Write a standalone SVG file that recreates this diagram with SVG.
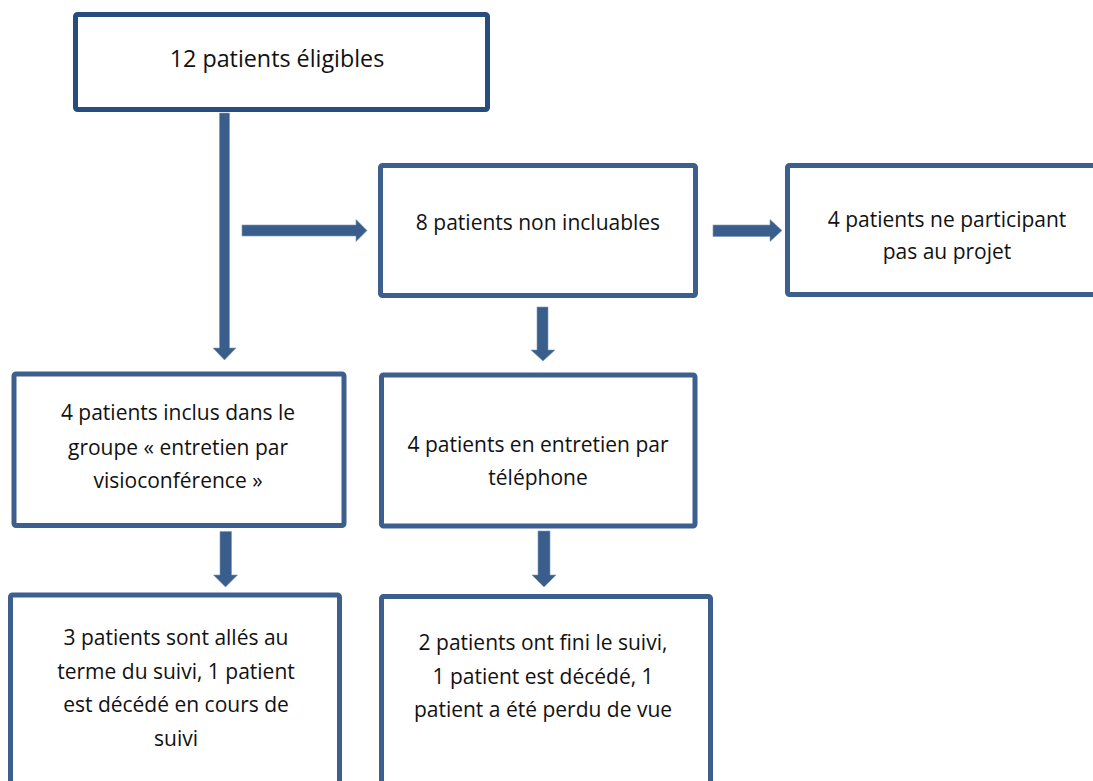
<svg xmlns="http://www.w3.org/2000/svg" width="1093" height="781" viewBox="0 0 1093 781">
<style>
.box{fill:#fff;stroke:#3C5F8D;stroke-width:5}
.top{stroke:#264D7C}
.arr{fill:#3A5E8C;stroke:#7D97BA;stroke-width:0.6}
text{font-family:"Open Sans","Liberation Sans",sans-serif;font-size:21px;fill:#111;text-anchor:middle}
.big{font-size:23.3px}
</style>
<rect width="1093" height="781" fill="#fff"/>
<g id="connectors">
<path class="arr" d="M219.5,113 H229.5 V348 H236 L224.5,360 L213,348 H219.5 Z"/>
<path class="arr" d="M242,225 H356 V219.5 L367,230.5 L356,241.5 V236 H242 Z"/>
<path class="arr" d="M713,225 H770 V219.5 L782,230.5 L770,241.5 V236.5 H713 Z"/>
<path class="arr" d="M537,307 H548 V350 H555 L543,361 L531,350 H537 Z"/>
<path class="arr" d="M220,531.5 H231.5 V575 H237.5 L225.5,587 L213.5,575 H220 Z"/>
<path class="arr" d="M538,531 H550 V575 H556 L544,587 L532,575 H538 Z"/>
</g>
<g id="n1"><rect class="box top" x="75.5" y="14.5" width="412" height="95" rx="2"/>
<text class="big" x="277" y="67">12 patients éligibles</text></g>
<g id="n2"><rect class="box" x="380.5" y="165.5" width="315" height="130" rx="2"/>
<text x="538" y="230">8 patients non incluables</text></g>
<g id="n3"><rect class="box" x="787.5" y="165.5" width="320" height="129" rx="2"/>
<text x="947" y="226.5">4 patients ne participant</text>
<text x="947" y="259">pas au projet</text></g>
<g id="n4"><rect class="box" x="14" y="374" width="330" height="151.5" rx="2"/>
<text x="178" y="420">4 patients inclus dans le</text>
<text x="178" y="454.5">groupe « entretien par</text>
<text x="178" y="488">visioconférence »</text></g>
<g id="n5"><rect class="box" x="381.5" y="375" width="313.5" height="151" rx="2"/>
<text x="538" y="451.5">4 patients en entretien par</text>
<text x="538" y="485">téléphone</text></g>
<g id="n6"><rect class="box" x="10.5" y="595" width="329" height="200" rx="2"/>
<text x="176" y="645">3 patients sont allés au</text>
<text x="176" y="678.5">terme du suivi, 1 patient</text>
<text x="176" y="712">est décédé en cours de</text>
<text x="176" y="745.5">suivi</text></g>
<g id="n7"><rect class="box" x="381.5" y="596.5" width="329" height="200" rx="2"/>
<text x="543" y="650">2 patients ont fini le suivi,</text>
<text x="543" y="683.5">1 patient est décédé, 1</text>
<text x="543" y="717">patient a été perdu de vue</text></g>
</svg>
